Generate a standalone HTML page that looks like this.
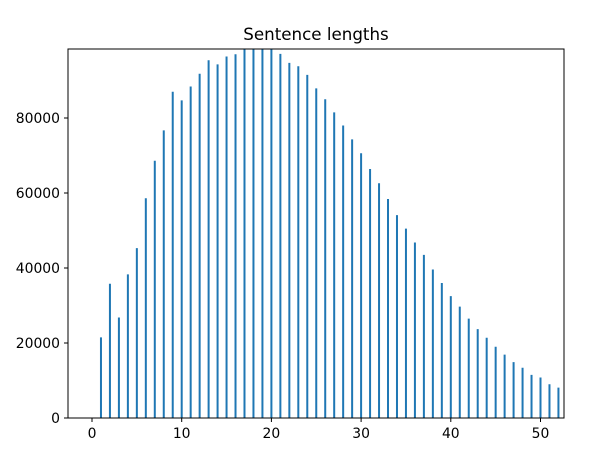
<!DOCTYPE html>
<html><head><meta charset="utf-8"><style>body{margin:0;background:#fff}svg{display:block;font-family:"DejaVu Sans","Liberation Sans",sans-serif}</style></head>
<body>
<svg id="chart" width="591" height="449" xmlns="http://www.w3.org/2000/svg">
<defs><clipPath id="clip"><rect x="68" y="49" width="496" height="369"/></clipPath></defs>
<rect width="591" height="449" fill="#fff"/>
<text x="316" y="40" font-size="16.7" text-anchor="middle">Sentence lengths</text>
<g id="bars" clip-path="url(#clip)"></g>
<g id="axes"></g>
<rect x="68" y="49" width="496" height="369" fill="none" stroke="#000" stroke-width="1"/>
</svg>
<script>
const lengths = [1,2,3,4,5,6,7,8,9,10,11,12,13,14,15,16,17,18,19,20,21,22,23,24,25,26,27,28,29,30,31,32,33,34,35,36,37,38,39,40,41,42,43,44,45,46,47,48,49,50,51,52];
const counts = [21500,35800,26800,38300,45300,58600,68600,76700,87000,84700,88400,91800,95400,94300,96400,97000,99500,99500,99500,99500,97100,94700,93800,91500,87900,85000,81500,78000,74300,70600,66400,62600,58400,54100,50500,46800,43500,39600,36000,32500,29700,26500,23700,21400,19000,16900,14900,13400,11500,10800,9000,8100];
const xTicks = [0,10,20,30,40,50];
const yTicks = [0,20000,40000,60000,80000];
const ns="http://www.w3.org/2000/svg";
const X = v => 92 + v*8.97;
const Y = v => 418 - v*0.00375;
const bars=document.getElementById('bars'), axes=document.getElementById('axes');
lengths.forEach((l,i)=>{
  const r=document.createElementNS(ns,'rect');
  
  
  r.setAttribute('x',X(l)-1);r.setAttribute('width',2);
  r.setAttribute('y',Y(counts[i]));r.setAttribute('height',418-Y(counts[i]));
  r.setAttribute('fill','#1f77b4');bars.appendChild(r);
});
xTicks.forEach(t=>{
  const ln=document.createElementNS(ns,'line');
  
  
  ln.setAttribute('x1',X(t));ln.setAttribute('x2',X(t));ln.setAttribute('y1',418);ln.setAttribute('y2',422);ln.setAttribute('stroke','#000');axes.appendChild(ln);
  const tx=document.createElementNS(ns,'text');
  
  
  tx.setAttribute('x',X(t));tx.setAttribute('y',438);tx.setAttribute('font-size','13.9');tx.setAttribute('text-anchor','middle');tx.textContent=t;axes.appendChild(tx);
});
yTicks.forEach(t=>{
  const ln=document.createElementNS(ns,'line');
  
  
  ln.setAttribute('x1',64);ln.setAttribute('x2',68);ln.setAttribute('y1',Y(t));ln.setAttribute('y2',Y(t));ln.setAttribute('stroke','#000');axes.appendChild(ln);
  const tx=document.createElementNS(ns,'text');
  
  
  tx.setAttribute('x',60);tx.setAttribute('y',Y(t)+5);tx.setAttribute('font-size','13.9');tx.setAttribute('text-anchor','end');tx.textContent=t;axes.appendChild(tx);
});
</script>
</body></html>
